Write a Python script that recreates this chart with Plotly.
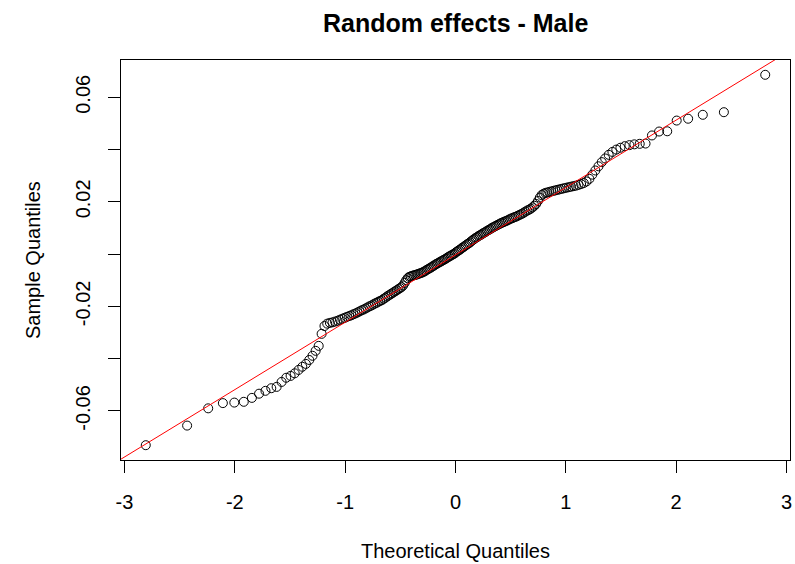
import plotly.graph_objects as go
import numpy as np
from statistics import NormalDist

# Sorted sample values (random effects)
sample_quantiles = [
    -0.0731, -0.0656, -0.0590, -0.0570, -0.0568, -0.0565, -0.0550, -0.0534, -0.0523, -0.0513,
    -0.0508, -0.0489, -0.0473, -0.0466, -0.0456, -0.0443, -0.0431, -0.0420, -0.0405, -0.0389,
    -0.0370, -0.0351, -0.0305, -0.0275, -0.0266, -0.0263, -0.0261, -0.0258, -0.0255, -0.0251,
    -0.0247, -0.0244, -0.0240, -0.0237, -0.0234, -0.0230, -0.0227, -0.0223, -0.0219, -0.0215,
    -0.0212, -0.0208, -0.0204, -0.0200, -0.0197, -0.0193, -0.0189, -0.0186, -0.0182, -0.0179,
    -0.0176, -0.0171, -0.0167, -0.0162, -0.0158, -0.0154, -0.0150, -0.0146, -0.0142, -0.0138,
    -0.0134, -0.0130, -0.0126, -0.0120, -0.0110, -0.0100, -0.0092, -0.0087, -0.0085, -0.0083,
    -0.0081, -0.0080, -0.0078, -0.0076, -0.0074, -0.0072, -0.0070, -0.0067, -0.0064, -0.0060,
    -0.0057, -0.0054, -0.0051, -0.0047, -0.0044, -0.0040, -0.0037, -0.0034, -0.0031, -0.0028,
    -0.0025, -0.0022, -0.0019, -0.0016, -0.0012, -0.0009, -0.0006, -0.0003, 0.0000, 0.0003,
    0.0008, 0.0011, 0.0015, 0.0018, 0.0023, 0.0026, 0.0030, 0.0034, 0.0038, 0.0041,
    0.0045, 0.0050, 0.0054, 0.0058, 0.0062, 0.0065, 0.0069, 0.0072, 0.0075, 0.0079,
    0.0082, 0.0085, 0.0089, 0.0092, 0.0095, 0.0099, 0.0102, 0.0105, 0.0108, 0.0111,
    0.0114, 0.0117, 0.0120, 0.0122, 0.0125, 0.0127, 0.0130, 0.0133, 0.0136, 0.0138,
    0.0141, 0.0143, 0.0146, 0.0149, 0.0152, 0.0155, 0.0159, 0.0163, 0.0167, 0.0170,
    0.0174, 0.0179, 0.0185, 0.0192, 0.0203, 0.0216, 0.0226, 0.0231, 0.0234, 0.0236,
    0.0238, 0.0240, 0.0242, 0.0244, 0.0246, 0.0248, 0.0250, 0.0252, 0.0254, 0.0256,
    0.0258, 0.0260, 0.0262, 0.0265, 0.0268, 0.0272, 0.0278, 0.0288, 0.0304, 0.0320,
    0.0336, 0.0352, 0.0366, 0.0380, 0.0391, 0.0400, 0.0407, 0.0413, 0.0417, 0.0420,
    0.0422, 0.0423, 0.0454, 0.0469, 0.0470, 0.0511, 0.0518, 0.0533, 0.0543, 0.0686,
]

x_tick_vals = [-3, -2, -1, 0, 1, 2, 3]
x_tick_text = ["-3", "-2", "-1", "0", "1", "2", "3"]
y_tick_vals = [-0.06, -0.04, -0.02, 0.0, 0.02, 0.04, 0.06]
y_tick_text = ["-0.06", "", "-0.02", "", "0.02", "", "0.06"]

title_text = "Random effects - Male"
x_title = "Theoretical Quantiles"
y_title = "Sample Quantiles"

# qqnorm: theoretical quantiles from ppoints(n)
nd = NormalDist()
ys = sorted(sample_quantiles)
n = len(ys)
a = 0.5 if n > 10 else 3.0 / 8.0
theo = [nd.inv_cdf((i - a) / (n + 1 - 2 * a)) for i in range(1, n + 1)]

# qqline through the quartiles
q1, q3 = np.quantile(ys, [0.25, 0.75])
z1, z3 = nd.inv_cdf(0.25), nd.inv_cdf(0.75)
slope = (q3 - q1) / (z3 - z1)
intercept = q1 - slope * z1

# R-style ranges (data range extended by 4%)
def r_range(v):
    lo, hi = min(v), max(v)
    d = (hi - lo) * 0.04
    return [lo - d, hi + d]

xr = r_range(theo)
yr = r_range(ys)

FONT = "Liberation Sans, Arial, Helvetica, sans-serif"

fig = go.Figure()
fig.add_trace(go.Scatter(
    x=theo, y=ys, mode="markers",
    marker=dict(symbol="circle-open", size=9, color="black", line=dict(width=1, color="black")),
    showlegend=False, hoverinfo="x+y",
))
fig.add_trace(go.Scatter(
    x=[xr[0], xr[1]],
    y=[intercept + slope * xr[0], intercept + slope * xr[1]],
    mode="lines", line=dict(color="red", width=1),
    showlegend=False, hoverinfo="skip",
))

axis_common = dict(
    showgrid=False, zeroline=False, showline=True, mirror=True,
    linecolor="black", linewidth=1, ticks="outside", ticklen=12,
    tickcolor="black", tickwidth=1,
    tickfont=dict(family=FONT, size=20, color="black"),
)

fig.update_layout(
    width=795, height=564,
    margin=dict(l=121, r=3, t=60, b=104, pad=0),
    paper_bgcolor="white", plot_bgcolor="white",
    xaxis=dict(range=xr, tickmode="array", tickvals=x_tick_vals, ticktext=x_tick_text,
               ticklabelstandoff=12, **axis_common),
    yaxis=dict(range=yr, tickmode="array", tickvals=y_tick_vals, ticktext=y_tick_text,
               tickangle=-90, ticklabelstandoff=10, **axis_common),
    annotations=[
        dict(text="<b>" + title_text + "</b>", xref="paper", yref="paper", x=0.5, y=1,
             xanchor="center", yanchor="middle", yshift=37, showarrow=False,
             font=dict(family=FONT, size=25, color="black")),
        dict(text=x_title, xref="paper", yref="paper", x=0.5, y=0,
             xanchor="center", yanchor="middle", yshift=-91, showarrow=False,
             font=dict(family=FONT, size=20, color="black")),
        dict(text=y_title, xref="paper", yref="paper", x=0, y=0.5,
             xanchor="center", yanchor="middle", xshift=-88, textangle=-90, showarrow=False,
             font=dict(family=FONT, size=20, color="black")),
    ],
)

fig.write_html("out.html")
